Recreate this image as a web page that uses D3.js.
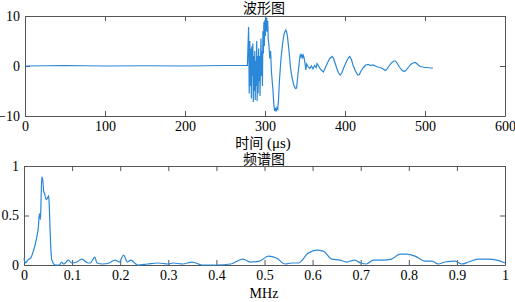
<!DOCTYPE html>
<html>
<head>
<meta charset="utf-8">
<script src="https://cdn.jsdelivr.net/npm/d3@7"></script>
<style>
  body { margin: 0; background: #fff; }
  .axis path, .axis line { stroke: #555; }
  .cn { font-family: "Noto Sans CJK SC", sans-serif; font-size: 14px; fill: #000; }
</style>
</head>
<body>
<div id="container"></div>
<script>
/* DATA */
// waveform, time in µs
const waveTime = [0, 50, 100, 150, 200, 250, 278,
  279.5, 280.3, 281, 281.7, 282.3, 283, 283.6, 284.2, 284.8, 285.4, 286, 286.6, 287.2, 287.8, 288.4, 289, 289.6,
  290.2, 290.8, 291.4, 292, 292.6, 293.2, 293.8, 294.4, 295, 295.6, 296.2, 296.8, 297.4, 298, 298.6, 299.2, 299.8,
  300.4, 301, 301.6, 302.2, 302.8, 303.4, 304, 305, 306, 307, 308, 309, 310, 311, 312, 313, 314, 315, 316, 317, 318,
  320, 322, 324, 326, 327, 328, 330, 332, 334, 336, 338, 339.5, 341, 343, 344, 345, 346, 347, 348, 349, 350, 351,
  352, 354, 356, 358, 360, 362, 364, 365, 367, 369, 371, 373, 375, 378, 381, 384, 386, 388, 390, 392, 394, 396, 398,
  401, 404, 406, 408, 410, 413, 416, 418, 420, 423, 426, 429, 432, 435, 438, 441, 444, 447, 450, 452, 455, 458, 461,
  463, 465, 468, 471, 474, 476, 479, 482, 485, 488, 491, 494, 497, 500, 503, 506, 510]
const waveAmp = [0, 0.1, 0, 0.05, 0, 0.1, 0.1,
  7.8, -5.5, 5, -4, 3.5, -6.5, 4, -2, 4.5, -7.2, 2, -5, 3, -6.8, 1, -4, 5,
  -7, 2, -5.5, 3.5, -3, 2, -6, 1, 5.5, -2, 3, -4, 7, 2.5, 8.8, 4, 9.2,
  6, 9.9, 7, 9.6, 6.8, 9, 5.5, 4, 1.5, 3, -1, -3, -5, -7.5, -9, -8.4, -9.1, -8.3, -8.6, -6.5, -3,
  1.5, 4.5, 6.5, 7.2, 6.8, 6, 3, -0.5, -2.5, -3.8, -4.5, -4.4, -2, 1, 2.2, 1.8, 2.4, 1.7, 2.1, 1.5, 0.5, -0.8,
  0.4, -0.2, -0.5, 0, -0.6, 0.1, -0.3, 0.5, 0, -0.6, -0.9, -1.2, -0.5, 0.6, 1.5, 1.9, 1.4, 0.4, -0.6, -1.4, -1.8, -1.4, -0.5,
  0.6, 1.6, 1.9, 1.3, 0.2, -1.0, -1.8, -1.7, -1.0, -0.3, 0.2, 0.3, 0.1, 0.2, 0, -0.2, -0.3, -0.5, -0.9, -0.7, 0, 0.6, 1.0,
  1.0, 0.6, -0.2, -0.8, -1.1, -0.9, -0.3, 0.3, 0.6, 0.7, 0.3, -0.1, -0.2, -0.3, -0.3, -0.4, -0.4]

// spectrum, frequency in MHz
const specFreq = [0, 0.003, 0.008, 0.015, 0.02, 0.023, 0.026, 0.03, 0.032, 0.034, 0.035, 0.037, 0.039, 0.041, 0.043,
  0.046, 0.048, 0.05, 0.051, 0.052, 0.054, 0.056, 0.058, 0.065, 0.074, 0.078, 0.083, 0.092, 0.1, 0.11, 0.12, 0.133,
  0.138, 0.147, 0.152, 0.163, 0.177, 0.189, 0.198, 0.207, 0.215, 0.222, 0.23, 0.236, 0.257, 0.278, 0.3, 0.31, 0.33,
  0.35, 0.37, 0.4, 0.43, 0.455, 0.47, 0.49, 0.508, 0.525, 0.543, 0.557, 0.57, 0.591, 0.608, 0.622, 0.64, 0.657,
  0.671, 0.687, 0.7, 0.712, 0.726, 0.747, 0.764, 0.782, 0.795, 0.813, 0.834, 0.848, 0.861, 0.875, 0.896, 0.91,
  0.924, 0.944, 0.965, 0.983, 1.0]
const specAmp = [0.07, 0.02, 0.05, 0.08, 0.15, 0.2, 0.27, 0.39, 0.52, 0.46, 0.57, 0.89, 0.86, 0.74, 0.72,
  0.66, 0.67, 0.69, 0.7, 0.65, 0.39, 0.15, 0.05, 0.0, 0.0, 0.03, 0.01, 0.05, 0.02, 0.03, 0.06, 0.02,
  0.02, 0.08, 0.02, 0.01, 0.02, 0.05, 0.03, 0.1, 0.03, 0.05, 0.02, 0, 0.01, 0.02, 0.01, 0.02, 0.01,
  0.03, 0, 0, 0.01, 0.06, 0.03, 0.04, 0.09, 0.07, 0.01, 0.02, 0.02, 0.12, 0.15, 0.14, 0.06, 0.05,
  0.03, 0.05, 0.02, 0.01, 0.05, 0.05, 0.06, 0.11, 0.11, 0.09, 0.04, 0.04, 0.01, 0.03, 0.04, 0.01,
  0.03, 0.06, 0.06, 0.05, 0.02]

const waveXTicks = [0, 100, 200, 300, 400, 500, 600]
const waveYTicks = [-10, 0, 10]
const specXTicks = [0, 0.1, 0.2, 0.3, 0.4, 0.5, 0.6, 0.7, 0.8, 0.9, 1]
const specYTicks = [0, 0.5, 1]

/* CONSTANTS */
const width = 515
const height = 302
const lineColor = "#2b88d8"
const serif = "Liberation Serif"

const svg = d3.select("#container")
    .append("svg")
    .attr("width", width)
    .attr("height", height)

// one boxed panel, inward ticks on all four sides
function panel(xScale, yScale, xTicks, yTicks, xFmt, yFmt) {
    const [x0, x1] = xScale.range()
    const [y0, y1] = yScale.range()  // y0 = bottom, y1 = top

    const gx = svg.append("g").attr("class", "axis")
        .attr("transform", `translate(0,${y0})`)
        .call(d3.axisBottom(xScale).tickValues(xTicks).tickFormat(xFmt).tickSizeInner(-5).tickSizeOuter(0).tickPadding(5))
    svg.append("g").attr("class", "axis")
        .attr("transform", `translate(0,${y1})`)
        .call(d3.axisTop(xScale).tickValues(xTicks).tickFormat("").tickSizeInner(-5).tickSizeOuter(0))
    const gy = svg.append("g").attr("class", "axis")
        .attr("transform", `translate(${x0},0)`)
        .call(d3.axisLeft(yScale).tickValues(yTicks).tickFormat(yFmt).tickSizeInner(-5).tickSizeOuter(0).tickPadding(5))
    svg.append("g").attr("class", "axis")
        .attr("transform", `translate(${x1},0)`)
        .call(d3.axisRight(yScale).tickValues(yTicks).tickFormat("").tickSizeInner(-5).tickSizeOuter(0))

    // d3 puts sans-serif 10 on the group, swap for the Times look
    ;[gx, gy].forEach(g => {
        g.attr("font-family", serif).attr("font-size", 14)
        g.selectAll("text").attr("fill", "#000")
    })
}

/* TOP: waveform */
const xWave = d3.scaleLinear().domain([0, 600]).range([25, 505])
const yWave = d3.scaleLinear().domain([-10, 10]).range([116, 16])
panel(xWave, yWave, waveXTicks, waveYTicks, d3.format("d"), d3.format("d"))

svg.append("path")
    .datum(d3.zip(waveTime, waveAmp))
    .attr("fill", "none")
    .attr("stroke", lineColor)
    .attr("stroke-width", 1.2)
    .attr("d", d3.line().x(d => xWave(d[0])).y(d => yWave(d[1])))

svg.append("text").attr("class", "cn")
    .attr("x", 264).attr("y", 13).attr("text-anchor", "middle")
    .text("波形图")
const xl = svg.append("text").attr("class", "cn")
    .attr("x", 263).attr("y", 147.5).attr("text-anchor", "middle")
xl.append("tspan").text("时间")
xl.append("tspan").attr("font-family", serif).style("font-family", serif).style("font-size", "15px").text(" (μs)")

/* BOTTOM: spectrum */
const xSpec = d3.scaleLinear().domain([0, 1]).range([24, 505])
const ySpec = d3.scaleLinear().domain([0, 1]).range([265, 166])
panel(xSpec, ySpec, specXTicks, specYTicks,
    d => d === 0 || d === 1 ? d3.format("d")(d) : d3.format(".1f")(d),
    d => d === 0.5 ? "0.5" : d3.format("d")(d))

svg.append("path")
    .datum(d3.zip(specFreq, specAmp))
    .attr("fill", "none")
    .attr("stroke", lineColor)
    .attr("stroke-width", 1.2)
    .attr("d", d3.line().curve(d3.curveMonotoneX).x(d => xSpec(d[0])).y(d => ySpec(d[1])))

svg.append("text").attr("class", "cn")
    .attr("x", 264).attr("y", 163.5).attr("text-anchor", "middle")
    .text("频谱图")
svg.append("text")
    .attr("x", 264).attr("y", 298).attr("text-anchor", "middle")
    .attr("font-family", serif).attr("font-size", 14)
    .text("MHz")
</script>
</body>
</html>
